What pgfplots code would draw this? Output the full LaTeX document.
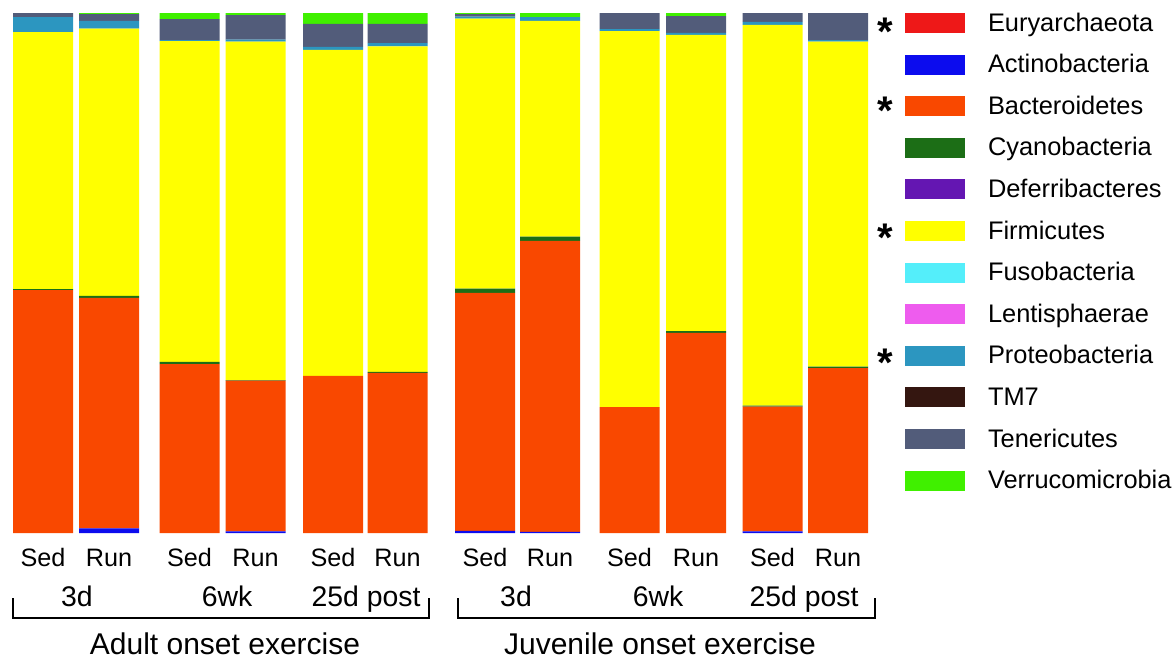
\documentclass[border=0pt]{standalone}
\usepackage{pgfplots}
\pgfplotsset{compat=1.18}
\usepackage{pgfplotstable}
\usepackage{fontspec}
\setmainfont{Liberation Sans}

\definecolor{cEury}{RGB}{238,24,24}
\definecolor{cActino}{RGB}{12,12,238}
\definecolor{cBact}{RGB}{249,72,0}
\definecolor{cCyano}{RGB}{28,110,22}
\definecolor{cDefer}{RGB}{100,22,178}
\definecolor{cFirm}{RGB}{255,255,0}
\definecolor{cFuso}{RGB}{84,238,250}
\definecolor{cLenti}{RGB}{238,92,238}
\definecolor{cProteo}{RGB}{44,150,192}
\definecolor{cTM}{RGB}{52,22,16}
\definecolor{cTener}{RGB}{82,92,122}
\definecolor{cVerru}{RGB}{64,240,0}

\tikzset{
  ast/.style={anchor=base, font=\bfseries\fontsize{20}{20}\selectfont, inner sep=0pt},
  grp/.style={anchor=base, font=\fontsize{14.2}{16}\selectfont, inner sep=0pt},
  big/.style={anchor=base, font=\fontsize{15}{17}\selectfont, inner sep=0pt},
}

\pgfplotstableread{
x Eury Actino Bact Cyano Defer Firm Fuso Lenti Proteo TM7 Tener Verru
43 0 0 46.7 0.2 0 49.4 0 0 2.9 0 0.8 0
109 0 0.9 44.3 0.4 0 51.4 0 0 1.5 0 1.3 0.2
189.5 0 0 32.5 0.4 0 61.7 0 0 0.2 0 4.0 1.2
255.5 0 0.3 29.0 0.1 0 65.1 0 0 0.4 0 4.7 0.4
333 0 0 30.2 0 0 62.7 0 0 0.6 0 4.4 2.1
397.5 0 0 30.8 0.2 0 62.6 0 0 0.6 0 3.7 2.1
485 0 0.4 45.8 0.8 0 51.9 0 0 0.4 0 0.5 0.2
550 0 0.2 56.0 0.8 0 41.5 0 0 0.7 0 0 0.8
629.5 0 0 24.2 0 0 72.3 0 0 0.4 0 3.1 0
696 0 0 38.5 0.3 0 57.0 0 0 0.4 0 3.2 0.6
772.5 0 0.3 24.0 0.2 0 73.2 0 0 0.6 0 1.7 0
838 0 0 31.7 0.3 0 62.5 0 0 0.3 0 5.2 0
}\data

\begin{document}
\begin{tikzpicture}
\begin{axis}[
  x=0.5pt, y=2.6pt,
  xmin=0, xmax=880, ymin=0, ymax=100,
  ybar stacked, bar width=30pt,
  axis line style={draw=none},
  major tick length=0pt,
  ytick=\empty,
  xtick={43,109,189.5,255.5,333,397.5,485,550,629.5,696,772.5,838},
  xticklabels={Sed,Run,Sed,Run,Sed,Run,Sed,Run,Sed,Run,Sed,Run},
  xticklabel style={anchor=base, yshift=-16.5pt, font=\fontsize{12.6}{14}\selectfont},
  clip=false,
  legend cell align=left,
  legend style={at={(1.02841,1.0)}, anchor=north west, draw=none, fill=none,
    inner sep=0pt, outer sep=0pt, row sep=8.8pt,
    font=\fontsize{12.7}{14}\selectfont,
    nodes={inner sep=0pt, text height=9pt, text depth=3pt},
    /tikz/every odd column/.append style={column sep=11.5pt}},
  legend image code/.code={\path[#1,draw=none] (0pt,-4pt) rectangle (30pt,6pt);},
]
\addplot[fill=cEury, draw=none] table[x=x,y=Eury]{\data};
\addplot[fill=cActino, draw=none] table[x=x,y=Actino]{\data};
\addplot[fill=cBact, draw=none] table[x=x,y=Bact]{\data};
\addplot[fill=cCyano, draw=none] table[x=x,y=Cyano]{\data};
\addplot[fill=cDefer, draw=none] table[x=x,y=Defer]{\data};
\addplot[fill=cFirm, draw=none] table[x=x,y=Firm]{\data};
\addplot[fill=cFuso, draw=none] table[x=x,y=Fuso]{\data};
\addplot[fill=cLenti, draw=none] table[x=x,y=Lenti]{\data};
\addplot[fill=cProteo, draw=none] table[x=x,y=Proteo]{\data};
\addplot[fill=cTM, draw=none] table[x=x,y=TM7]{\data};
\addplot[fill=cTener, draw=none] table[x=x,y=Tener]{\data};
\addplot[fill=cVerru, draw=none] table[x=x,y=Verru]{\data};
\legend{Euryarchaeota,Actinobacteria,Bacteroidetes,Cyanobacteria,Deferribacteres,Firmicutes,Fusobacteria,Lentisphaerae,Proteobacteria,TM7,Tenericutes,Verrucomicrobia}

% asterisks
\node[ast] at (axis cs:885,93.69) {*};
\node[ast] at (axis cs:885,78.5) {*};
\node[ast] at (axis cs:885,54.07) {*};
\node[ast] at (axis cs:885,30.03) {*};
% group labels
\node[grp] at (axis cs:77,-14.04) {3d};
\node[grp] at (axis cs:227,-14.04) {6wk};
\node[grp] at (axis cs:366,-14.04) {25d post};
\node[grp] at (axis cs:516,-14.04) {3d};
\node[grp] at (axis cs:658,-14.04) {6wk};
\node[grp] at (axis cs:804,-14.04) {25d post};
\draw[line width=1pt] (axis cs:13,-12.5) -- (axis cs:13,-16.4) -- (axis cs:429,-16.4) -- (axis cs:429,-12.5);
\draw[line width=1pt] (axis cs:458,-12.5) -- (axis cs:458,-16.4) -- (axis cs:875,-16.4) -- (axis cs:875,-12.5);
\node[big] at (axis cs:225,-23.3) {Adult onset exercise};
\node[big] at (axis cs:660,-23.3) {Juvenile onset exercise};
\coordinate (BL) at (axis cs:0,-24.04);
\coordinate (TR) at (axis cs:1176,102.5);
\end{axis}
\pgfresetboundingbox
\useasboundingbox (BL) rectangle (TR);
\end{tikzpicture}
\end{document}
